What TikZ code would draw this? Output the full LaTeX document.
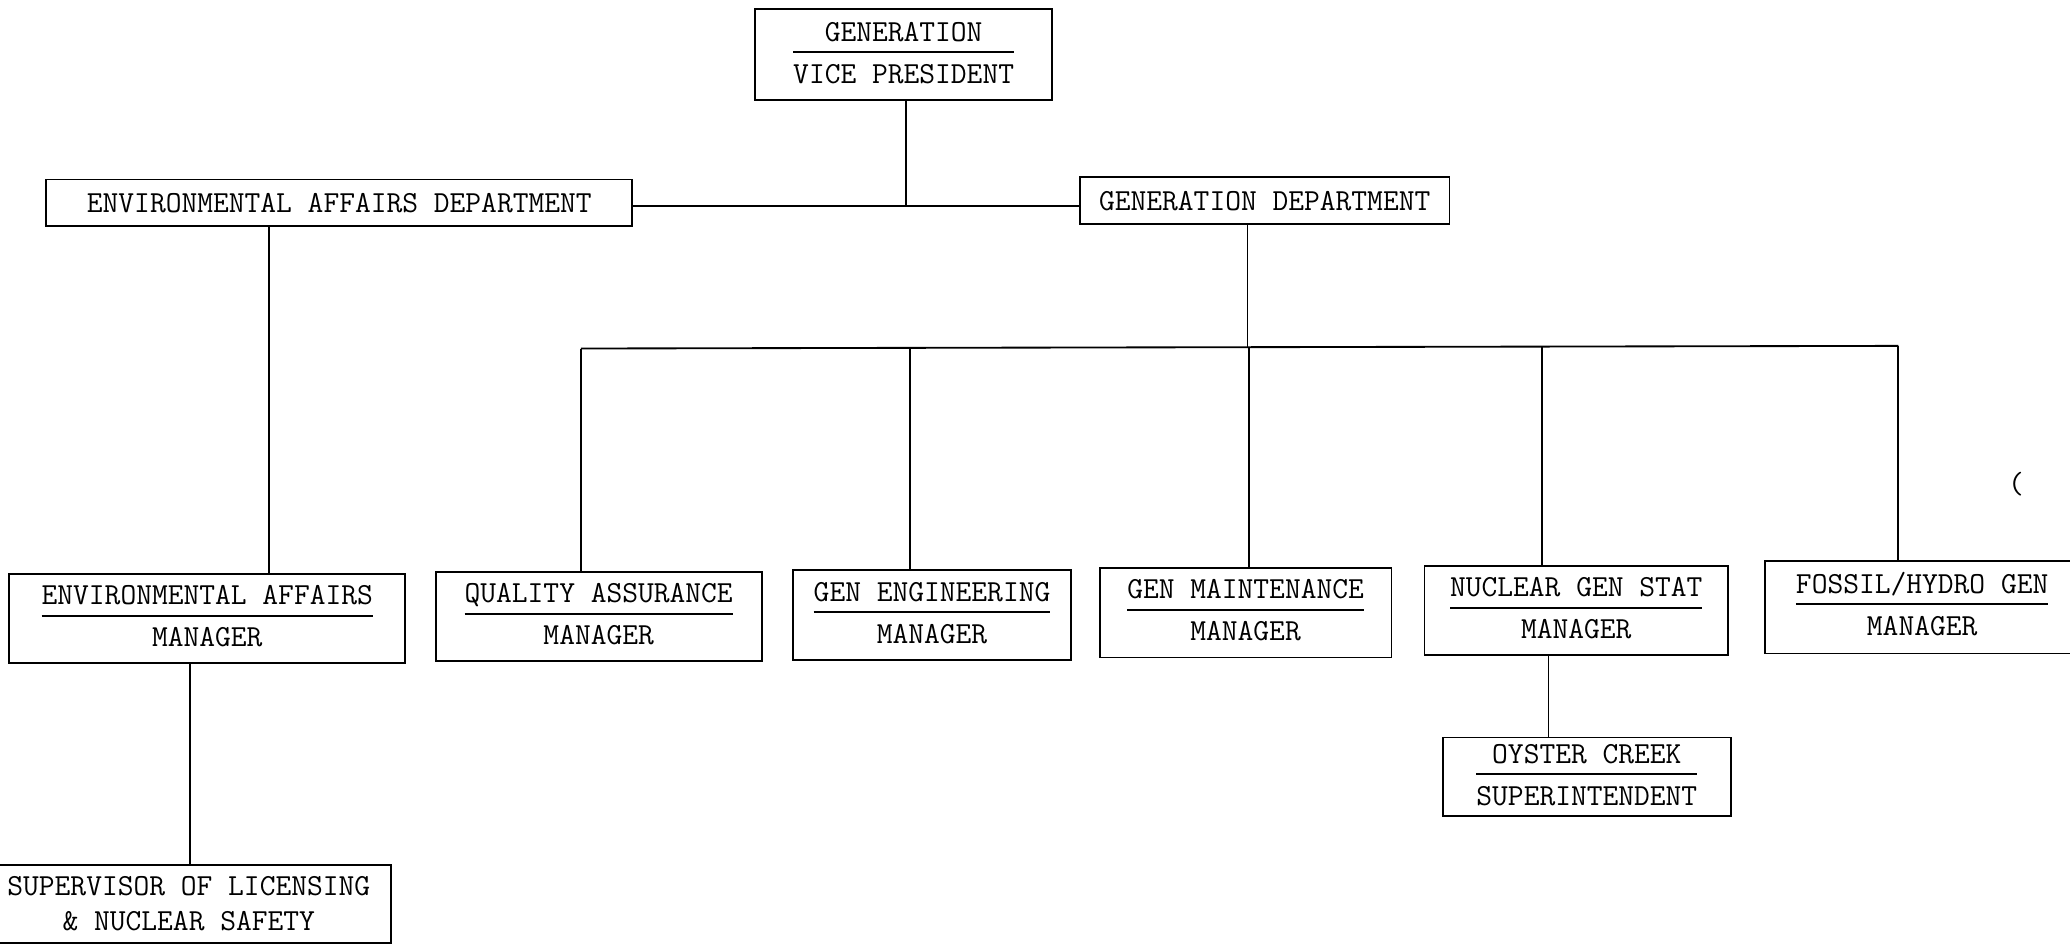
\documentclass[tikz,border=0pt]{standalone}
\usepackage{fontspec}
\setlength{\arrayrulewidth}{0.7pt}
\newcommand\twol[2]{\begin{tabular}{@{}c@{}}#1\\[-0.5pt]\hline\rule{0pt}{11.5pt}#2\end{tabular}}
\begin{document}
\begin{tikzpicture}[x=0.5pt,y=-0.5pt,
  box/.style={draw,line width=0.7pt,inner sep=0pt,font=\fontsize{11.6}{14}\selectfont\ttfamily,align=center},
  conn/.style={line width=0.7pt}]
\useasboundingbox (0,0) rectangle (1568,716);
\clip (0,0) rectangle (1568,716);
\fill[white] (0,0) rectangle (1568,716);
% nodes
\node[box,minimum width=112.5pt,minimum height=34.5pt] (vp) at (684.5,41.5) {\twol{GENERATION}{VICE PRESIDENT}};
\node[box,minimum width=222pt,minimum height=17.5pt] (ead) at (257,153.5) {ENVIRONMENTAL AFFAIRS DEPARTMENT};
\node[box,minimum width=140pt,minimum height=18pt] (gd) at (958,152) {GENERATION DEPARTMENT};
\node[box,minimum width=150pt,minimum height=33.5pt] (eam) at (157,468.5) {\twol{ENVIRONMENTAL AFFAIRS}{MANAGER}};
\node[box,minimum width=123.5pt,minimum height=34pt] (qa) at (453.5,467) {\twol{QUALITY ASSURANCE}{MANAGER}};
\node[box,minimum width=105pt,minimum height=34pt] (ge) at (706,466) {\twol{GEN ENGINEERING}{MANAGER}};
\node[box,minimum width=110.5pt,minimum height=34pt] (gm) at (943.5,464) {\twol{GEN MAINTENANCE}{MANAGER}};
\node[box,minimum width=115pt,minimum height=33.5pt] (ngs) at (1194,462.5) {\twol{NUCLEAR GEN STAT}{MANAGER}};
\node[box,minimum width=119pt,minimum height=35pt] (fh) at (1456,460) {\twol{FOSSIL/HYDRO GEN}{MANAGER}};
\node[box,minimum width=109pt,minimum height=28.5pt] (oc) at (1202,588.5) {\twol{OYSTER CREEK}{SUPERINTENDENT}};
\node[box,minimum width=153pt,minimum height=29.5pt] (sup) at (143,684.5) {SUPERVISOR OF LICENSING\\[-1pt]\& NUCLEAR SAFETY};
\node[font=\fontsize{11.6}{14}\selectfont\ttfamily,inner sep=0pt] (mark) at (1527,367) {(};
% coordinates
\coordinate (h) at (686,156);
\coordinate (bL) at (440,264);
\coordinate (bR) at (1438,262);
\coordinate (bG) at (945,263);
\coordinate (bE) at (689,263.5);
\coordinate (bM) at (946,263);
\coordinate (bN) at (1168,262.5);
\coordinate (e1) at (204,300);
\coordinate (e2) at (144,580);
\coordinate (n1) at (1173,530);
% connectors
\draw[conn] (ead.east |- h) -- (gd.west |- h);
\draw[conn] (h |- vp.south) -- (h);
\draw[conn] (bG |- gd.south) -- (bG);
\draw[conn] (bL) -- (bR);
\draw[conn] (bL) -- (bL |- qa.north);
\draw[conn] (bE) -- (bE |- ge.north);
\draw[conn] (bM) -- (bM |- gm.north);
\draw[conn] (bN) -- (bN |- ngs.north);
\draw[conn] (bR) -- (bR |- fh.north);
\draw[conn] (e1 |- ead.south) -- (e1 |- eam.north);
\draw[conn] (e2 |- eam.south) -- (e2 |- sup.north);
\draw[conn] (n1 |- ngs.south) -- (n1 |- oc.north);
\end{tikzpicture}
\end{document}
